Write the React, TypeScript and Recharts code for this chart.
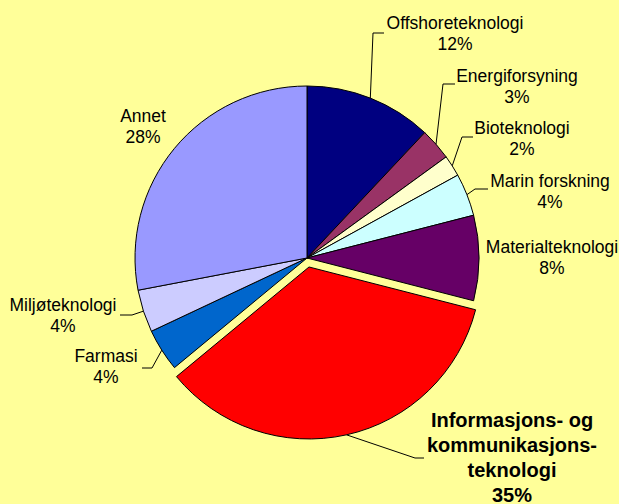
import React from "react";
import { PieChart, Pie, Cell } from "recharts";

const categories = [
  "Offshoreteknologi",
  "Energiforsyning",
  "Bioteknologi",
  "Marin forskning",
  "Materialteknologi",
  "Informasjons- og kommunikasjons-teknologi",
  "Farmasi",
  "Miljøteknologi",
  "Annet",
];
const categoryLines = [
  ["Offshoreteknologi"],
  ["Energiforsyning"],
  ["Bioteknologi"],
  ["Marin forskning"],
  ["Materialteknologi"],
  ["Informasjons- og", "kommunikasjons-", "teknologi"],
  ["Farmasi"],
  ["Miljøteknologi"],
  ["Annet"],
];
const shares = [12, 3, 2, 4, 8, 35, 4, 4, 28];
const colors = [
  "#000080",
  "#993366",
  "#FFFFCC",
  "#CCFFFF",
  "#660066",
  "#FF0000",
  "#0066CC",
  "#CCCCFF",
  "#9999FF",
];
const EXPLODED = 5;

const data = categories.map((name, i) => ({ name, value: shares[i] }));

// label layout (text centre x, first baseline y, leader elbow/end) – manual placement like the original
const labelLayout = [
  { tx: 455, ty: 29, elbow: [373, 33], end: [384, 33] },
  { tx: 517, ty: 82, elbow: [443, 84], end: [455, 84] },
  { tx: 522, ty: 134, elbow: [462, 137], end: [473, 137] },
  { tx: 550, ty: 187, elbow: [475, 189], end: [488, 189] },
  { tx: 552, ty: 253, elbow: null, end: null },
  { tx: 512, ty: 427, elbow: [415, 458], end: [424, 458] },
  { tx: 106, ty: 362, elbow: [152, 368], end: [142, 368] },
  { tx: 63, ty: 311, elbow: [132, 315], end: [120, 315] },
  { tx: 143, ty: 122, elbow: null, end: null },
];

const W = 619;
const H = 504;
const CX = 307;
const CY = 258;
const R = 172;
const RADIAN = Math.PI / 180;

// explode offset along the bisector of the exploded slice
const total = shares.reduce((a, b) => a + b, 0);
const before = shares.slice(0, EXPLODED).reduce((a, b) => a + b, 0);
const midFrac = (before + shares[EXPLODED] / 2) / total;
const EXP = 9.2;
const EX_DX = EXP * Math.sin(midFrac * 2 * Math.PI);
const EX_DY = -EXP * Math.cos(midFrac * 2 * Math.PI);

const FONT = "'Liberation Sans', Arial, sans-serif";

function makeLabel(show: (i: number) => boolean) {
  return (props: any) => {
    const { cx, cy, midAngle, outerRadius, index, value } = props;
    if (!show(index)) return null;
    const lay = labelLayout[index];
    const bold = index === EXPLODED;
    const fs = bold ? 20 : 17.5;
    const lh = bold ? 25 : 20.5;
    const sx = cx + outerRadius * Math.cos(-midAngle * RADIAN);
    const sy = cy + outerRadius * Math.sin(-midAngle * RADIAN);
    const lines = [...categoryLines[index], `${value}%`];
    return (
      <g key={`lbl-${index}`}>
        {lay.elbow && lay.end ? (
          <polyline
            points={`${sx},${sy} ${lay.elbow[0]},${lay.elbow[1]} ${lay.end[0]},${lay.end[1]}`}
            fill="none"
            stroke="#000"
            strokeWidth={1}
          />
        ) : null}
        <text
          x={lay.tx}
          y={lay.ty}
          textAnchor="middle"
          fontFamily={FONT}
          fontSize={fs}
          fontWeight={bold ? "bold" : "normal"}
          fill="#000"
        >
          {lines.map((l, k) => (
            <tspan key={k} x={lay.tx} y={lay.ty + k * lh}>
              {l}
            </tspan>
          ))}
        </text>
      </g>
    );
  };
}

export default function App() {
  return (
    <div
      style={{
        position: "absolute",
        left: 0,
        top: 0,
        width: W,
        height: H,
        background: "#FFFF99",
        overflow: "hidden",
      }}
    >
      <PieChart width={W} height={H} margin={{ top: 0, right: 0, bottom: 0, left: 0 }}>
        <Pie
          data={data}
          dataKey="value"
          nameKey="name"
          cx={CX}
          cy={CY}
          outerRadius={R}
          innerRadius={0}
          startAngle={90}
          endAngle={-270}
          isAnimationActive={false}
          labelLine={false}
          label={makeLabel((i) => i !== EXPLODED)}
        >
          {data.map((d, i) => (
            <Cell
              key={d.name}
              fill={i === EXPLODED ? "none" : colors[i]}
              stroke={i === EXPLODED ? "none" : "#000"}
              strokeWidth={1}
            />
          ))}
        </Pie>
        <Pie
          data={data}
          dataKey="value"
          nameKey="name"
          cx={CX + EX_DX}
          cy={CY + EX_DY}
          outerRadius={R}
          innerRadius={0}
          startAngle={90}
          endAngle={-270}
          isAnimationActive={false}
          labelLine={false}
          label={makeLabel((i) => i === EXPLODED)}
        >
          {data.map((d, i) => (
            <Cell
              key={d.name}
              fill={i === EXPLODED ? colors[i] : "none"}
              stroke={i === EXPLODED ? "#000" : "none"}
              strokeWidth={1}
            />
          ))}
        </Pie>
      </PieChart>
    </div>
  );
}
